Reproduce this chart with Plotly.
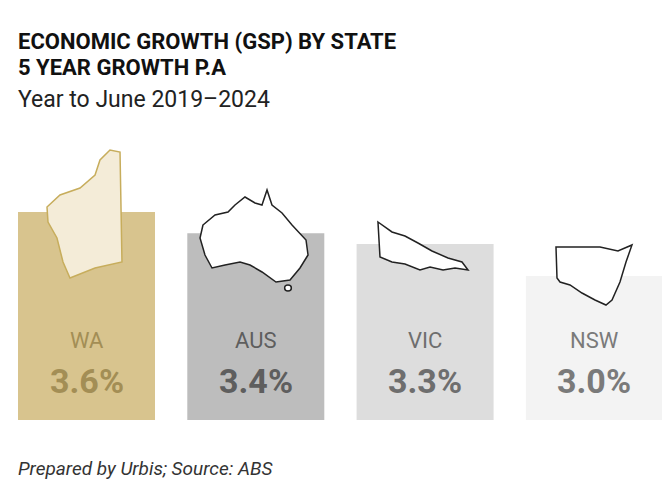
import plotly.graph_objects as go

states = ["WA", "AUS", "VIC", "NSW"]
growth = [3.6, 3.4, 3.3, 3.0]
labels = ["3.6%", "3.4%", "3.3%", "3.0%"]
bar_colors = ["#d8c48e", "#bdbdbd", "#dddddd", "#f3f3f3"]
text_colors = ["#a38e55", "#5e5e5e", "#6e6e6e", "#7a7a7a"]

W, H = 670, 504
OFF = 8
def P(x, y):
    return (x - OFF) / W, 1 - (y - OFF) / H

xs = list(range(len(states)))
pitch = 169.3
c0 = 86.5 - OFF
xr = [-c0 / pitch, (W - c0) / pitch]

fig = go.Figure(go.Bar(x=xs, y=growth, width=137 / pitch, marker_color=bar_colors,
                       marker_line_width=0, base=0, hoverinfo="skip"))

outlines = [
    ([(47,207),(60,195),(80,188),(95,175),(100,160),(110,150),(120,152),(122,262),(95,268),(70,278),(63,262),(57,238),(48,222)], "#f4ecd8", "#c7ad5c"),
    ([(203,225),(215,215),(228,212),(235,205),(245,197),(255,203),(262,205),(267,190),(272,205),(282,213),(292,225),(306,240),(308,255),(300,268),(290,280),(276,282),(262,272),(250,265),(240,262),(225,265),(212,268),(205,255),(200,238)], "#ffffff", "#222222"),
    ([(378,222),(392,232),(405,236),(418,243),(432,251),(448,258),(462,262),(468,270),(455,268),(443,270),(430,267),(420,270),(405,264),(392,262),(380,257)], "#ffffff", "#222222"),
    ([(556,247),(600,247),(618,251),(632,245),(626,262),(620,282),(612,300),(606,305),(595,300),(582,293),(570,285),(560,282),(557,278)], "#ffffff", "#222222"),
]
shapes = []
for pts, fill, line in outlines:
    path = "M " + " L ".join(f"{P(x,y)[0]:.4f},{P(x,y)[1]:.4f}" for x, y in pts) + " Z"
    shapes.append(dict(type="path", xref="paper", yref="paper", path=path,
                       fillcolor=fill, line=dict(color=line, width=1.5)))
tx, ty = P(288, 288)
shapes.append(dict(type="circle", xref="paper", yref="paper", x0=tx-0.005, x1=tx+0.005,
                   y0=ty-0.006, y1=ty+0.006, fillcolor="#fff", line=dict(color="#222", width=1.5)))

ann = []
for i, (s, lab, c) in enumerate(zip(states, labels, text_colors)):
    ann.append(dict(x=i, xref="x", y=P(0,340)[1], yref="paper", text=s, showarrow=False,
                    font=dict(size=22, color=c, family="Roboto"), yanchor="middle"))
    ann.append(dict(x=i, xref="x", y=P(0,381)[1], yref="paper", text=f"<b>{lab}</b>", showarrow=False,
                    font=dict(size=34, color=c, family="Roboto"), yanchor="middle"))

def txt(y, t, size, color):
    return dict(x=P(16,0)[0], y=P(0,y)[1], xref="paper", yref="paper", xanchor="left",
                yanchor="middle", text=t, showarrow=False,
                font=dict(size=size, color=color, family="Roboto"))

ann += [
    txt(42, "<b>ECONOMIC GROWTH (GSP) BY STATE</b>", 22, "#111"),
    txt(67, "<b>5 YEAR GROWTH P.A</b>", 22, "#111"),
    txt(99, "Year to June 2019–2024", 23, "#222"),
    txt(468, "<i>Prepared by Urbis; Source: ABS</i>", 19, "#333"),
]

fig.update_layout(
    width=W, height=H, margin=dict(l=0, r=0, t=0, b=0),
    paper_bgcolor="white", plot_bgcolor="white", showlegend=False,
    shapes=shapes, annotations=ann,
    xaxis=dict(domain=[0, 1], range=xr, visible=False),
    yaxis=dict(domain=[1-(420-OFF)/H, 1-(100-OFF)/H], range=[1.65, 4.65], visible=False),
)
fig.write_html("out.html")
